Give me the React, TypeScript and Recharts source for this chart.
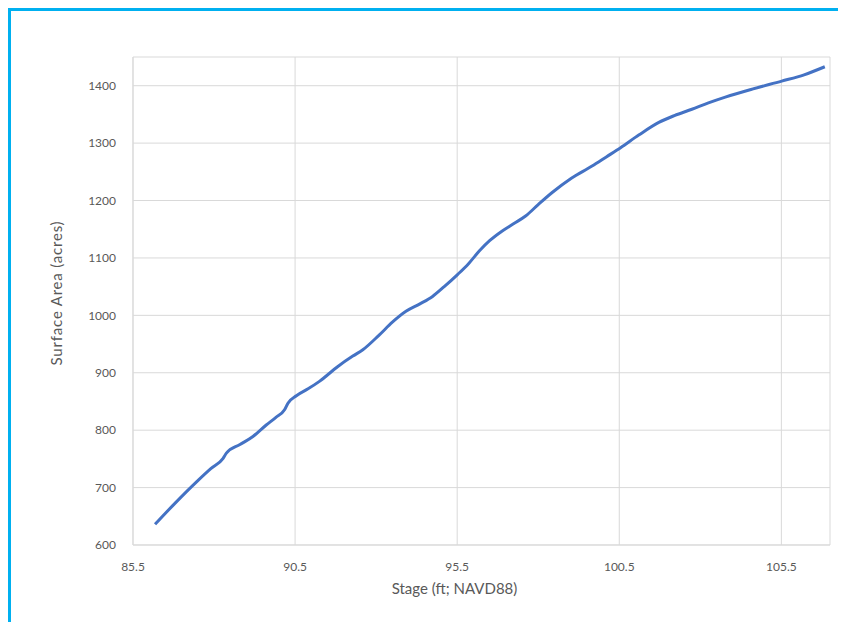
import React from 'react';
import { LineChart, Line, XAxis, YAxis, CartesianGrid } from 'recharts';

const stage = [86.18, 86.8, 87.46, 87.9, 88.28, 88.38, 88.8, 89.2, 89.61, 89.9, 90.18, 90.28, 90.54, 90.9, 91.25, 91.82, 92.28, 92.59, 93.1, 93.5, 93.92, 94.35, 94.74, 95.1, 95.51, 95.85, 96.18, 96.5, 96.89, 97.25, 97.61, 98.0, 98.43, 99.0, 99.66, 100.1, 100.54, 101.1, 101.72, 102.2, 102.74, 103.25, 103.77, 104.6, 105.51, 106.2, 106.84];
const area = [636, 673, 710, 733, 751, 760, 775, 789, 809, 822, 836, 847, 860, 872, 885, 911, 929, 940, 966, 988, 1007, 1020, 1033, 1050, 1071, 1090, 1112, 1130, 1147, 1160, 1173, 1193, 1214, 1238, 1260, 1276, 1292, 1314, 1336, 1348, 1359, 1370, 1380, 1394, 1408, 1419, 1433];
const xTicks = [85.5, 90.5, 95.5, 100.5, 105.5];
const yTicks = [600, 700, 800, 900, 1000, 1100, 1200, 1300, 1400];
const xTitle = 'Stage (ft; NAVD88)';
const yTitle = 'Surface Area (acres)';

const data = stage.map((s, i) => ({ stage: s, area: area[i] }));

const titleStyle = { fill: '#595959', fontSize: 15, fontFamily: 'Lato' };

const XTitle = (props: any) => {
  const vb = props.viewBox || {};
  const cx = vb.x + vb.width / 2 - 27;
  return (
    <text x={cx} y={577} textAnchor="middle" dominantBaseline="central" {...titleStyle}>
      {xTitle}
    </text>
  );
};

const YTitle = (props: any) => {
  const vb = props.viewBox || {};
  const cy = vb.y + vb.height / 2 - 8;
  const cx = 45;
  return (
    <text
      x={cx}
      y={cy}
      textAnchor="middle"
      dominantBaseline="central"
      transform={`rotate(-90 ${cx} ${cy})`}
      letterSpacing={0.8}
      {...titleStyle}
    >
      {yTitle}
    </text>
  );
};

export default function App() {
  return (
    <div style={{ borderTop: '3px solid #00B0F0', borderLeft: '3px solid #00B0F0', width: 835, height: 611, background: '#fff' }}>
      <LineChart width={835} height={611} data={data} margin={{ top: 46, right: 16, bottom: 47, left: 32 }}>
        <CartesianGrid stroke="#d9d9d9" strokeWidth={1} />
        <XAxis
          dataKey="stage"
          type="number"
          domain={[85.5, 107]}
          ticks={xTicks}
          tickFormatter={(v) => String(v)}
          axisLine={{ stroke: '#d9d9d9' }}
          tickLine={false}
          tick={{ fill: '#595959', fontSize: 12, fontFamily: 'Lato' }}
          tickMargin={11}
          height={30}
          label={<XTitle />}
        />
        <YAxis
          type="number"
          domain={[600, 1450]}
          ticks={yTicks}
          axisLine={{ stroke: '#d9d9d9' }}
          tickLine={false}
          tick={{ fill: '#595959', fontSize: 12, fontFamily: 'Lato' }}
          tickMargin={11}
          width={90}
          label={<YTitle />}
        />
        <Line type="monotone" dataKey="area" stroke="#4472C4" strokeWidth={3} dot={false} isAnimationActive={false} />
      </LineChart>
    </div>
  );
}
